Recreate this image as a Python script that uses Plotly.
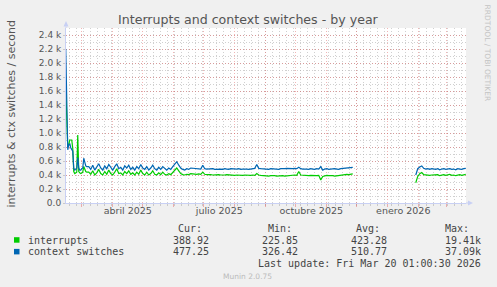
import plotly.graph_objects as go
import pandas as pd

# ---------------- data ----------------
early_dates = pd.date_range('2025-02-13', '2025-03-06', freq='D')
mid_dates = pd.date_range('2025-03-08', '2025-11-27', freq='2D')
gap_date = pd.Timestamp('2025-12-28')
late_dates = pd.date_range('2026-01-29', '2026-03-20', freq='2D')

interrupts_early = [1650, 1200, 800, 830, 900, 900, 900, 780, 450, 420, 430,
                    440, 970, 450, 430, 420, 430, 440, 520, 470, 450, 440]
ctx_early = [2200, 1500, 760, 830, 850, 790, 760, 740, 500, 470, 480,
             500, 650, 500, 470, 470, 490, 500, 640, 560, 530, 520]

interrupts_mid = [440, 410, 460, 400, 430, 480, 420, 400, 450, 410,
                  470, 420, 400, 440, 490, 420, 430, 400, 450, 420,
                  460, 410, 430, 400, 440, 410, 470, 420, 400, 440,
                  400, 420, 460, 410, 400, 430, 405, 440, 410, 400,
                  420, 405, 440, 480, 500, 460, 420, 405, 400, 410,
                  405,
                  420, 415, 420, 410, 415, 410, 440, 410, 405, 410,
                  405, 400, 405, 400, 405, 400, 395, 400, 405, 400,
                  395, 400, 395, 400, 395, 390, 395, 400, 395, 390,
                  395, 400, 395, 420, 400, 395, 390, 395, 390, 385,
                  390, 395, 390, 385, 390, 395, 390, 385, 390, 395,
                  390, 395, 400, 395, 450, 400, 395, 390, 395, 390,
                  395, 390, 385, 390, 395, 330, 380, 390, 395, 390,
                  395, 390, 385, 390, 395, 400, 405, 400, 410, 405, 410, 415]
ctx_mid = [520, 480, 540, 470, 510, 560, 500, 470, 530, 490,
           550, 500, 470, 520, 560, 490, 510, 470, 530, 500,
           540, 480, 510, 470, 520, 490, 550, 500, 480, 520,
           470, 500, 540, 490, 470, 510, 480, 520, 490, 470,
           500, 480, 520, 560, 590, 540, 500, 480, 470, 490,
           480,
           500, 495, 490, 495, 490, 485, 540, 490, 485, 490,
           485, 490, 480, 485, 490, 485, 480, 490, 485, 480,
           490, 485, 480, 485, 490, 480, 485, 490, 485, 480,
           485, 490, 495, 550, 495, 490, 485, 490, 485, 480,
           490, 485, 490, 485, 480, 490, 485, 490, 495, 490,
           485, 490, 495, 490, 510, 490, 485, 490, 485, 480,
           490, 485, 480, 490, 485, 520, 470, 485, 490, 480,
           485, 480, 490, 485, 480, 490, 495, 500, 505, 500, 505, 510]

interrupts_late = [290, 380, 420, 435, 405, 400, 405, 395, 400, 400, 395, 405, 390,
                   400, 405, 395, 400, 410, 395, 400, 390, 400, 405, 395, 400, 410]
ctx_late = [400, 490, 515, 530, 495, 485, 490, 480, 490, 485, 480, 490, 475,
            485, 490, 480, 485, 490, 480, 485, 475, 490, 485, 480, 490, 495]

y_tick_vals = [0, 200, 400, 600, 800, 1000, 1200, 1400, 1600, 1800, 2000, 2200, 2400]
y_tick_text = ['0.0', '0.2 k', '0.4 k', '0.6 k', '0.8 k', '1.0 k', '1.2 k',
               '1.4 k', '1.6 k', '1.8 k', '2.0 k', '2.2 k', '2.4 k']
x_label_vals = ['2025-04-16', '2025-07-16 12:00', '2025-10-16 12:00', '2026-01-16 12:00']
x_label_text = ['abril 2025', 'julio 2025', 'octubre 2025', 'enero 2026']

legend_names = ['interrupts', 'context switches']
legend_colors = ['#00CC00', '#0066B3']
cur_vals = ['388.92', '477.25']
min_vals = ['225.85', '326.42']
avg_vals = ['423.28', '510.77']
max_vals = ['19.41k', '37.09k']
last_update = 'Last update: Fri Mar 20 01:00:30 2026'

# ---------------- build ----------------
dates = list(early_dates) + list(mid_dates) + [gap_date] + list(late_dates)
interrupts = interrupts_early + interrupts_mid + [None] + interrupts_late
ctx = ctx_early + ctx_mid + [None] + ctx_late

x_start, x_end = '2025-02-13 06:00', '2026-03-20 06:00'
month_starts = pd.date_range('2025-03-01', '2026-03-01', freq='MS')
weeks = pd.date_range('2025-02-17', '2026-03-16', freq='7D')

W, H = 497, 287
L, R, T, B = 66, 466, 28, 203


def px(x):
    return (x - L) / (R - L)


def py(y):
    return (B - y) / (B - T)


FONT = 'DejaVu Sans'
MONO = 'DejaVu Sans Mono'
TXT = '#555555'
MGRID = 'rgba(225,90,90,0.45)'
GRID = 'rgba(170,170,170,0.55)'
AXIS = '#c8d0f4'

fig = go.Figure()
fig.add_trace(go.Scatter(x=dates, y=interrupts, mode='lines', name=legend_names[0],
                         line=dict(color=legend_colors[0], width=1.2), connectgaps=False))
fig.add_trace(go.Scatter(x=dates, y=ctx, mode='lines', name=legend_names[1],
                         line=dict(color=legend_colors[1], width=1.2), connectgaps=False))
fig.add_trace(go.Scatter(x=[x_start], y=[None], xaxis='x2', yaxis='y', showlegend=False,
                         hoverinfo='skip'))

ann = []
ann.append(dict(text='Interrupts and context switches - by year', x=px(248.7), y=py(19),
                xref='paper', yref='paper', xanchor='center', yanchor='middle', showarrow=False,
                font=dict(family=FONT, size=12.6, color=TXT)))
ann.append(dict(text='interrupts & ctx switches / second', x=px(11), y=py(114.5),
                xref='paper', yref='paper', xanchor='center', yanchor='middle', showarrow=False,
                textangle=-90, font=dict(family=FONT, size=11, color=TXT)))
ann.append(dict(text='RRDTOOL / TOBI OETIKER', x=px(487.7), y=py(53.3),
                xref='paper', yref='paper', xanchor='center', yanchor='middle', showarrow=False,
                textangle=90, font=dict(family=FONT, size=7.5, color='#c4c4c4')))
ann.append(dict(text='Munin 2.0.75', x=px(247.7), y=py(276.7),
                xref='paper', yref='paper', xanchor='center', yanchor='middle', showarrow=False,
                font=dict(family=FONT, size=7.5, color='#bbbbbb')))


def mono(text, xr, yc, anchor='right'):
    ann.append(dict(text=text, x=px(xr), y=py(yc), xref='paper', yref='paper',
                    xanchor=anchor, yanchor='middle', showarrow=False, borderpad=0,
                    font=dict(family=MONO, size=10, color='#444444')))


headers = ['Cur:', 'Min:', 'Avg:', 'Max:']
header_right = [203.3, 292.7, 381, 470]
value_right = [210, 299, 387.7, 482.3]
for h, xr in zip(headers, header_right):
    mono(h, xr, 228)
rows_y = [240, 251.7]
shapes = []
for i in range(2):
    mono(legend_names[i], 26.7, rows_y[i], anchor='left')
    for vals, xr in zip([cur_vals, min_vals, avg_vals, max_vals], value_right):
        mono(vals[i], xr, rows_y[i])
    shapes.append(dict(type='rect', xref='paper', yref='paper',
                       x0=px(14), x1=px(19.5), y0=py(rows_y[i] + 2.7), y1=py(rows_y[i] - 2.8),
                       fillcolor=legend_colors[i], line=dict(width=0)))
mono(last_update, 482.3, 263.3)

# axis arrows
shapes.append(dict(type='path', xref='paper', yref='paper',
                   path=f'M {px(63.5)} {py(26.5)} L {px(66)} {py(21)} L {px(68.5)} {py(26.5)} Z',
                   fillcolor=AXIS, line=dict(width=0)))
shapes.append(dict(type='line', xref='paper', yref='paper', x0=0, x1=0, y0=1, y1=py(26.5),
                   line=dict(color=AXIS, width=1)))
shapes.append(dict(type='path', xref='paper', yref='paper',
                   path=f'M {px(468)} {py(200.5)} L {px(473)} {py(203)} L {px(468)} {py(205.5)} Z',
                   fillcolor=AXIS, line=dict(width=0)))
shapes.append(dict(type='line', xref='paper', yref='paper', x0=1, x1=px(468), y0=0, y1=0,
                   line=dict(color=AXIS, width=1)))

fig.update_layout(
    width=W, height=H,
    margin=dict(l=L, r=W - R, t=T, b=H - B, pad=0),
    paper_bgcolor='#F0F0F0', plot_bgcolor='#FFFFFF',
    showlegend=False,
    annotations=ann, shapes=shapes,
    xaxis=dict(type='date', range=[x_start, x_end], tickmode='array', tickvals=month_starts,
               showticklabels=False, showgrid=True, gridcolor=MGRID, griddash='1px,2px',
               gridwidth=1, ticks='outside', ticklen=3, tickcolor=MGRID,
               showline=True, linecolor=AXIS, linewidth=1, zeroline=False,
               minor=dict(tickmode='array', tickvals=weeks, showgrid=True, gridcolor=GRID,
                          griddash='1px,2px', gridwidth=1, ticks='outside', ticklen=2,
                          tickcolor=GRID)),
    xaxis2=dict(type='date', range=[x_start, x_end], overlaying='x', anchor='y', side='bottom',
                tickmode='array', tickvals=x_label_vals, ticktext=x_label_text,
                showgrid=False, showline=False, zeroline=False, ticks='',
                tickfont=dict(family=FONT, size=9.5, color=TXT)),
    yaxis=dict(range=[0, 2500], tickmode='array', tickvals=y_tick_vals, ticktext=y_tick_text,
               showgrid=True, gridcolor=MGRID, griddash='1px,2px', gridwidth=1,
               ticks='outside', ticklen=2, tickcolor=GRID,
               showline=True, linecolor=AXIS, linewidth=1, zeroline=False,
               tickfont=dict(family=FONT, size=9, color=TXT),
               minor=dict(tickmode='linear', tick0=0, dtick=100, showgrid=True, gridcolor=GRID,
                          griddash='1px,2px', gridwidth=1)),
)

fig.write_html('out.html')
